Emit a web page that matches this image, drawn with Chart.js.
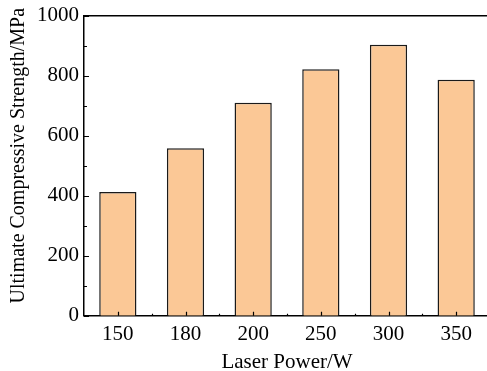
<!DOCTYPE html>
<html>
<head>
<meta charset="utf-8">
<script src="https://cdn.jsdelivr.net/npm/chart.js@4.4.0/dist/chart.umd.min.js"></script>
<style>
  html, body { margin: 0; padding: 0; background: #fff; overflow: hidden; }
  #wrap { width: 496px; height: 373px; position: relative; top: -2px; }
</style>
</head>
<body>
<div id="wrap"><canvas id="c"></canvas></div>
<script>
// data
var powers = ['150', '180', '200', '250', '300', '350'];
var strength = [412, 558, 710, 821, 903, 786];
var yTicks = [0, 200, 400, 600, 800, 1000];

var serif = '"Liberation Serif", "Times New Roman", serif';

// inward ticks drawn from the scales
var tickPlugin = {
  id: 'inTicks',
  afterDraw: function (chart) {
    var ctx = chart.ctx, a = chart.chartArea;
    var x = chart.scales.x, y = chart.scales.y;
    ctx.save();
    ctx.strokeStyle = '#000';
    ctx.lineWidth = 1.2;
    ctx.beginPath();
    for (var v = 0; v <= 1000; v += 100) {
      var py = Math.round(y.getPixelForValue(v)) + 0.5;
      var len = (v % 200 === 0) ? 5 : 3;
      ctx.moveTo(a.left, py);
      ctx.lineTo(a.left + len, py);
    }
    for (var i = 0; i < powers.length; i++) {
      var px = Math.round(x.getPixelForValue(i)) + 0.5;
      ctx.moveTo(px, a.bottom);
      ctx.lineTo(px, a.bottom - 4);
      var mx = Math.round(x.getPixelForValue(i + 0.5)) + 0.5;
      ctx.moveTo(mx, a.bottom);
      ctx.lineTo(mx, a.bottom - 2);
    }
    ctx.stroke();
    ctx.restore();
  }
};

new Chart(document.getElementById('c'), {
  type: 'bar',
  data: {
    labels: powers,
    datasets: [{
      data: strength,
      backgroundColor: '#FBC896',
      borderColor: '#1a1a1a',
      borderWidth: 1.5,
      categoryPercentage: 1,
      barPercentage: 0.55
    }]
  },
  options: {
    responsive: true,
    maintainAspectRatio: false,
    animation: false,
    layout: { padding: { top: -2, left: 7, right: 6, bottom: -2 } },
    plugins: { legend: { display: false }, tooltip: { enabled: false } },
    scales: {
      x: {
        grid: { display: false, drawTicks: false },
        border: { display: true, color: '#000', width: 1.5 },
        ticks: { color: '#000', font: { family: serif, size: 21 }, padding: 6, maxRotation: 0 },
        title: { display: true, text: 'Laser Power/W', color: '#000', font: { family: serif, size: 21, lineHeight: 1 }, padding: { top: -1, bottom: 0 } }
      },
      x2: {
        position: 'top',
        grid: { display: false, drawTicks: false },
        border: { display: true, color: '#000', width: 1.5 },
        ticks: { display: false }
      },
      y: {
        min: 0,
        max: 1000,
        afterBuildTicks: function (s) { s.ticks = yTicks.map(function (v) { return { value: v }; }); },
        grid: { display: false, drawTicks: false },
        border: { display: true, color: '#000', width: 1.5 },
        ticks: { color: '#000', font: { family: serif, size: 21 }, padding: 5, callback: function (v) { return String(v); } },
        title: { display: true, text: '\u00a0\u00a0\u00a0\u00a0Ultimate Compressive Strength/MPa', color: '#000', font: { family: serif, size: 20 }, padding: { top: 0, bottom: 1 } }
      }
    }
  },
  plugins: [tickPlugin]
});
</script>
</body>
</html>
